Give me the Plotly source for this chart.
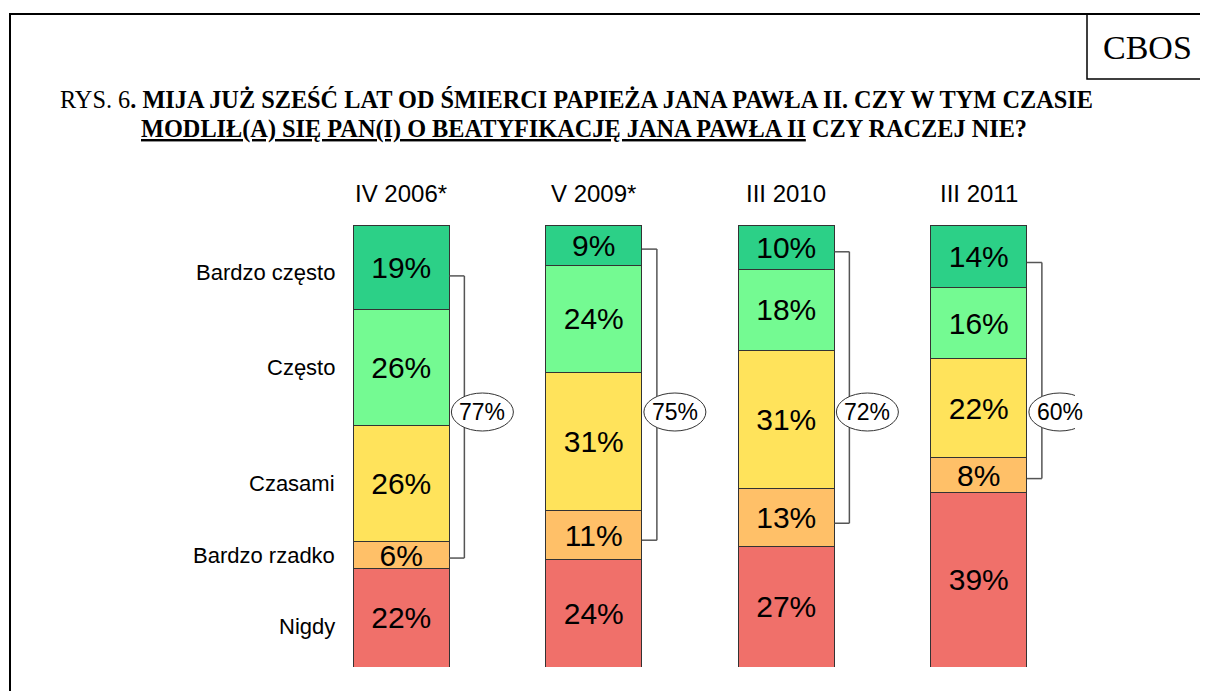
import plotly.graph_objects as go

# ---------------- data ----------------
periods = ["IV 2006*", "V 2009*", "III 2010", "III 2011"]
answers = ["Bardzo często", "Często", "Czasami", "Bardzo rzadko", "Nigdy"]
bardzo_czesto = [19, 9, 10, 14]
czesto = [26, 24, 18, 16]
czasami = [26, 31, 31, 22]
bardzo_rzadko = [6, 11, 13, 8]
nigdy = [22, 24, 27, 39]
praying_total = ["77%", "75%", "72%", "60%"]

series = [bardzo_czesto, czesto, czasami, bardzo_rzadko, nigdy]
colors = ["#2CD087", "#74FA92", "#FFE35B", "#FFC068", "#F0706A"]

# ---------------- layout geometry (pixels) ----------------
W, H = 1200, 683
OFF = 8                     # browser body margin
L, R, T, B = 297, 1067, 217, 659
PW, PH = R - L, B - T
UNIT = PW / 4.0             # pixels per category

def px(x):   # reference x pixel -> paper
    return (x - OFF - L) / PW

def py(y):   # reference y pixel -> paper
    return (B - (y - OFF)) / PH

SANS = "Liberation Sans, Arial, sans-serif"
SERIF = "Liberation Serif, Times New Roman, serif"

xs = list(range(len(periods)))
totals = [sum(s[i] for s in series) for i in xs]
ymax = max(totals)

fig = go.Figure()
# stack from bottom (Nigdy) to top (Bardzo często)
for name, vals, col in reversed(list(zip(answers, series, colors))):
    fig.add_trace(go.Bar(
        x=xs, y=vals, name=name, width=0.5,
        marker=dict(color=col, line=dict(color="#333333", width=1)),
        text=[f"{v}%" for v in vals], textposition="inside", textangle=0,
        insidetextanchor="middle",
        textfont=dict(family=SANS, size=30, color="black"),
        hoverinfo="skip", showlegend=False,
    ))

shapes = []
annotations = []

# outer frame and CBOS box
shapes.append(dict(type="rect", xref="paper", yref="paper",
                   x0=px(10), x1=px(1216), y0=py(14), y1=py(710),
                   line=dict(color="black", width=2), fillcolor="rgba(0,0,0,0)"))
shapes.append(dict(type="rect", xref="paper", yref="paper",
                   x0=px(1087), x1=px(1216), y0=py(14), y1=py(79),
                   line=dict(color="black", width=1.5), fillcolor="rgba(0,0,0,0)"))
annotations.append(dict(text="CBOS", xref="paper", yref="paper", x=px(1147), y=py(47),
                        xanchor="center", yanchor="middle", showarrow=False,
                        font=dict(family=SERIF, size=34, color="black")))

# title
annotations.append(dict(
    text="RYS. 6<b>. MIJA JUŻ SZEŚĆ LAT OD ŚMIERCI PAPIEŻA JANA PAWŁA II. CZY W TYM CZASIE</b>",
    xref="paper", yref="paper", x=px(576), y=py(100), xanchor="center", yanchor="middle",
    showarrow=False, font=dict(family=SERIF, size=24.3, color="black")))
annotations.append(dict(
    text="<b><u>MODLIŁ(A) SIĘ PAN(I) O BEATYFIKACJĘ JANA PAWŁA II</u> CZY RACZEJ NIE?</b>",
    xref="paper", yref="paper", x=px(584), y=py(129), xanchor="center", yanchor="middle",
    showarrow=False, font=dict(family=SERIF, size=24.3, color="black")))

# period headers
for i, p in enumerate(periods):
    annotations.append(dict(text=p, xref="x", yref="paper", x=i, y=py(193),
                            xanchor="center", yanchor="middle", showarrow=False,
                            font=dict(family=SANS, size=24, color="black")))

# category labels beside first bar
cum = 0
mids = []
for vals in reversed(series):
    mids.append(cum + vals[0] / 2.0)
    cum += vals[0]
mids = list(reversed(mids))
label_shift = [-5, 0, 0, 0, -9]
for name, m, s in zip(answers, mids, label_shift):
    annotations.append(dict(text=name, xref="paper", yref="y", x=px(337), y=m, yshift=s,
                            xanchor="right", yanchor="middle", showarrow=False,
                            font=dict(family=SANS, size=22, color="black")))

# brackets with totals
edge = 0.25
bx = 15 / UNIT
ex = 33 / UNIT
ew = 31 / UNIT
eh = 19 / PH
for i in xs:
    ytop = totals[i] - bardzo_czesto[i] * 0.6
    ybot = nigdy[i] + bardzo_rzadko[i] * 0.4
    lc = dict(color="#555555", width=1.5)
    shapes.append(dict(type="line", xref="x", yref="y", x0=i + edge, x1=i + edge + bx,
                       y0=ytop, y1=ytop, line=lc))
    shapes.append(dict(type="line", xref="x", yref="y", x0=i + edge + bx, x1=i + edge + bx,
                       y0=ytop, y1=ybot, line=lc))
    shapes.append(dict(type="line", xref="x", yref="y", x0=i + edge, x1=i + edge + bx,
                       y0=ybot, y1=ybot, line=lc))
for i in xs:
    cx = i + edge + ex
    shapes.append(dict(type="circle", xref="x", yref="paper",
                       x0=cx - ew, x1=cx + ew, y0=py(412) - eh, y1=py(412) + eh,
                       line=dict(color="#333333", width=1), fillcolor="white"))
    annotations.append(dict(text=praying_total[i], xref="x", yref="paper", x=cx, y=py(412),
                            xanchor="center", yanchor="middle", showarrow=False,
                            font=dict(family=SANS, size=23, color="black")))

fig.update_layout(
    width=W, height=H, autosize=False,
    margin=dict(l=L, r=W - R, t=T, b=H - B, pad=0),
    barmode="stack",
    paper_bgcolor="white", plot_bgcolor="white",
    xaxis=dict(range=[-0.5, len(periods) - 0.5], visible=False, fixedrange=True),
    yaxis=dict(range=[0, ymax], visible=False, fixedrange=True),
    uniformtext=dict(minsize=30, mode="show"),
    shapes=shapes, annotations=annotations,
    showlegend=False,
)

fig.write_html("out.html", config={"displayModeBar": False})
